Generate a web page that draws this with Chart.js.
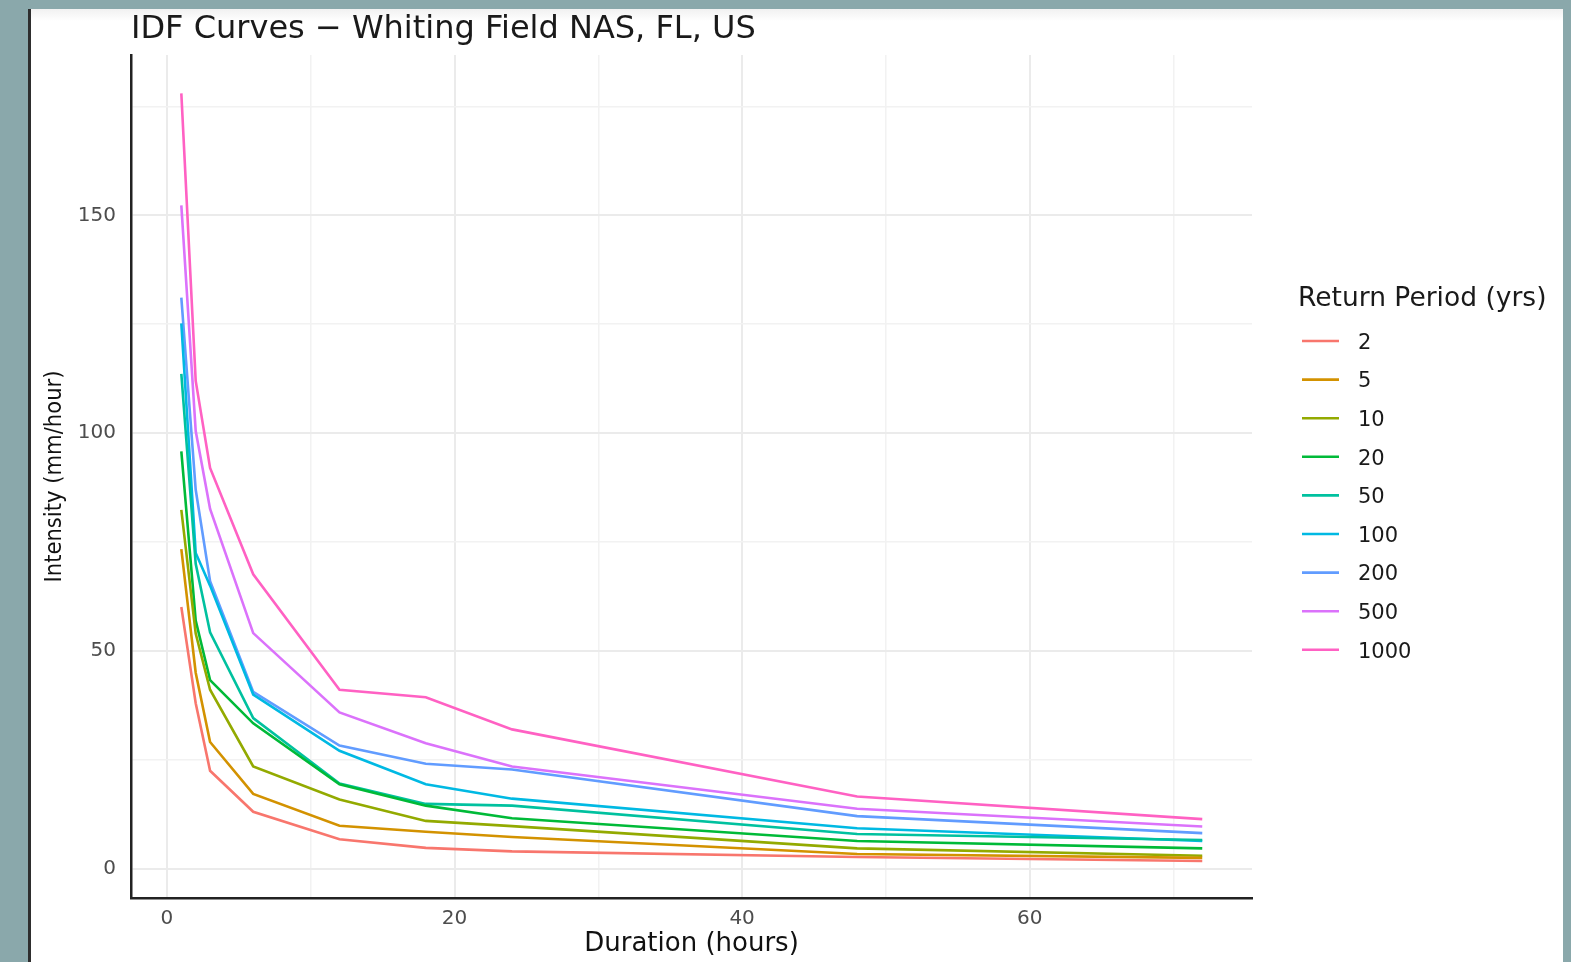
<!DOCTYPE html>
<html>
<head>
<meta charset="utf-8">
<title>IDF Curves – Whiting Field NAS, FL, US</title>
<script src="https://cdn.jsdelivr.net/npm/chart.js@4.4.1/dist/chart.umd.min.js"></script>
<style>
  html, body { margin: 0; padding: 0; }
  body { width: 1571px; height: 962px; background: #8aa8ab; position: relative; overflow: hidden; }
  #panel {
    position: absolute; left: 28px; top: 9px; width: 1535px; height: 953px;
    background: linear-gradient(#f1f1f1 0px, #ffffff 12px, #ffffff 100%);
    border-left: 3px solid #2e2e2e; box-sizing: border-box;
  }
  #idf { position: absolute; left: 0; top: 0; }
</style>
</head>
<body>
<div id="panel"></div>
<canvas id="idf" width="1571" height="962"></canvas>
<script>
// Storm durations (hours)
const durations = [1, 2, 3, 6, 12, 18, 24, 48, 72];

// Return periods (years) used as series names
const returnPeriods = ['2', '5', '10', '20', '50', '100', '200', '500', '1000'];

// Rainfall intensity (mm/hour) for each return period
const rp2    = [60.1, 38.0, 22.5, 13.1,  6.8,  4.8,  4.0,  2.7, 1.8];
const rp5    = [73.4, 45.0, 29.1, 17.2,  9.9,  8.5,  7.3,  3.4, 2.5];
const rp10   = [82.4, 54.0, 41.1, 23.5, 15.9, 11.0,  9.8,  4.7, 3.0];
const rp20   = [95.8, 57.0, 43.3, 33.4, 19.4, 14.5, 11.6,  6.4, 4.7];
const rp50   = [113.6, 70.0, 54.3, 34.6, 19.6, 14.9, 14.5, 8.0, 6.6];
const rp100  = [125.2, 72.5, 65.0, 40.0, 27.1, 19.4, 16.1, 9.3, 6.4];
const rp200  = [131.1, 87.0, 66.0, 40.6, 28.3, 24.1, 22.8, 12.1, 8.2];
const rp500  = [152.3, 100.5, 82.6, 54.1, 35.9, 28.8, 23.5, 13.8, 9.7];
const rp1000 = [178.0, 112.0, 92.0, 67.6, 41.1, 39.4, 32.0, 16.6, 11.4];

// Axis tick values
const xTicks = [0, 10, 20, 30, 40, 50, 60, 70];
const xLabelled = [0, 20, 40, 60];
const yTicks = [0, 25, 50, 75, 100, 125, 150, 175];
const yLabelled = [0, 50, 100, 150];

const seriesValues = [rp2, rp5, rp10, rp20, rp50, rp100, rp200, rp500, rp1000];
const palette = ['#F8766D', '#D39200', '#93AA00', '#00BA38', '#00C19F',
                 '#00B9E3', '#619CFF', '#DB72FB', '#FF61C3'];

const FONT = '"DejaVu Sans", "Liberation Sans", sans-serif';

const datasets = seriesValues.map((vals, i) => ({
  label: returnPeriods[i],
  data: durations.map((d, j) => ({ x: d, y: vals[j] })),
  borderColor: palette[i],
  backgroundColor: palette[i],
  borderWidth: 2.6,
  pointRadius: 0,
  tension: 0,
  fill: false
}));

// Title and legend drawn at fixed spots in the margins
const decorations = {
  id: 'decorations',
  afterDraw(chart) {
    const ctx = chart.ctx;
    ctx.save();
    ctx.textBaseline = 'alphabetic';
    ctx.textAlign = 'left';
    ctx.fillStyle = '#1a1a1a';
    ctx.font = '32px ' + FONT;
    ctx.fillText('IDF Curves \u2212 Whiting Field NAS, FL, US', 131, 38);

    ctx.fillStyle = '#1a1a1a';
    ctx.font = '26.5px ' + FONT;
    ctx.fillText('Return Period (yrs)', 1298, 306);

    ctx.font = '21px ' + FONT;
    chart.data.datasets.forEach((ds, i) => {
      const cy = 341 + i * 38.6;
      ctx.strokeStyle = ds.borderColor;
      ctx.lineWidth = 2.6;
      ctx.beginPath();
      ctx.moveTo(1302, cy);
      ctx.lineTo(1339, cy);
      ctx.stroke();
      ctx.fillStyle = '#1a1a1a';
      ctx.fillText(ds.label, 1358, cy + 7.8);
    });
    ctx.restore();
  }
};

new Chart(document.getElementById('idf'), {
  type: 'line',
  data: { datasets },
  plugins: [decorations],
  options: {
    responsive: false,
    animation: false,
    layout: { padding: { top: 55, right: 319, bottom: 0, left: 0 } },
    plugins: { legend: { display: false }, title: { display: false }, tooltip: { enabled: false } },
    scales: {
      x: {
        type: 'linear',
        min: -2.5,
        max: 75.46,
        afterFit(scale) { scale.height = 64; },
        afterBuildTicks(scale) { scale.ticks = xTicks.map(v => ({ value: v })); },
        ticks: {
          padding: 9,
          color: '#4d4d4d',
          font: { family: FONT, size: 20 },
          callback: v => (xLabelled.includes(v) ? String(v) : '')
        },
        grid: {
          drawTicks: false,
          color: ctx => (xLabelled.includes(ctx.tick && ctx.tick.value) ? '#ebebeb' : '#f2f2f2'),
          lineWidth: ctx => (xLabelled.includes(ctx.tick && ctx.tick.value) ? 2 : 1.5)
        },
        border: { display: true, color: '#222222', width: 2.5 },
        title: {
          display: true,
          text: 'Duration (hours)',
          color: '#111111',
          font: { family: FONT, size: 26 },
          padding: { top: 0, bottom: 2 }
        }
      },
      y: {
        type: 'linear',
        min: -6.7,
        max: 186.8,
        afterFit(scale) { scale.width = 131; },
        afterBuildTicks(scale) { scale.ticks = yTicks.map(v => ({ value: v })); },
        ticks: {
          padding: 15,
          color: '#4d4d4d',
          font: { family: FONT, size: 20 },
          callback: v => (yLabelled.includes(v) ? String(v) : '')
        },
        grid: {
          drawTicks: false,
          color: ctx => (yLabelled.includes(ctx.tick && ctx.tick.value) ? '#ebebeb' : '#f2f2f2'),
          lineWidth: ctx => (yLabelled.includes(ctx.tick && ctx.tick.value) ? 2 : 1.5)
        },
        border: { display: true, color: '#222222', width: 2.5 },
        title: {
          display: true,
          text: 'Intensity (mm/hour)',
          color: '#111111',
          font: { family: '"DejaVu Sans Condensed", ' + FONT, size: 23.5 },
          padding: { top: 41, bottom: 0 }
        }
      }
    }
  }
});
</script>
</body>
</html>
